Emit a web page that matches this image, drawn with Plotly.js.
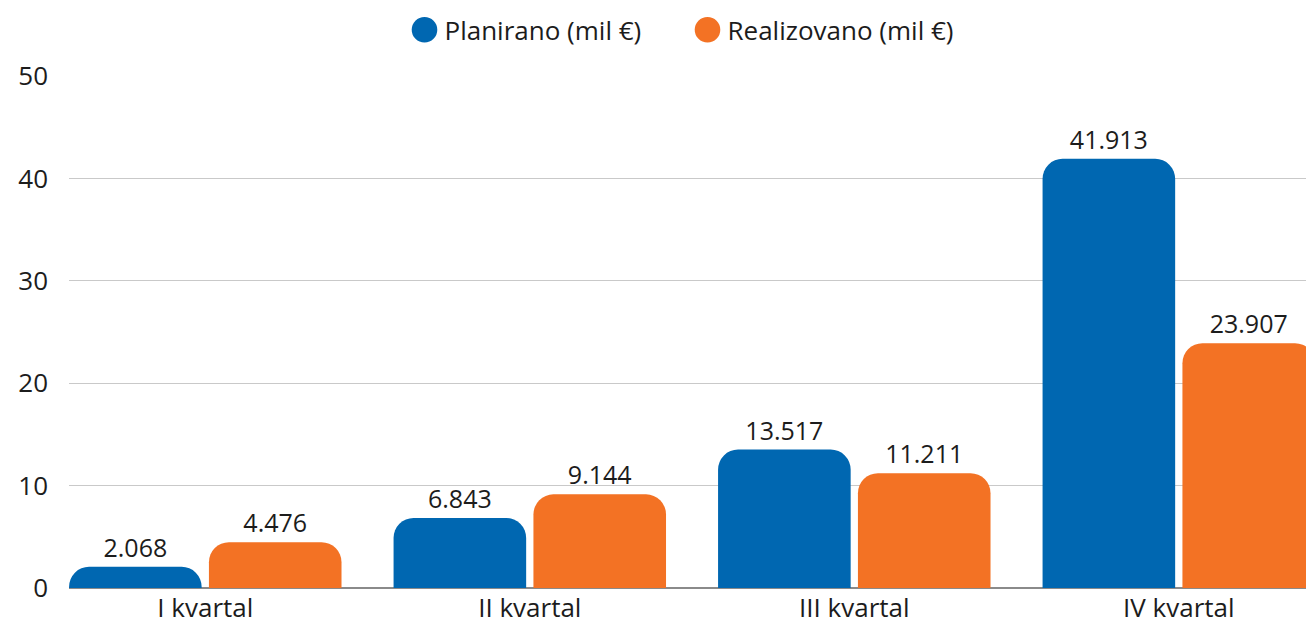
<!DOCTYPE html>
<html>
<head>
<meta charset="utf-8">
<script src="https://cdn.plot.ly/plotly-3.0.1.min.js"></script>
<style>html,body{margin:0;padding:0;background:#fff;}#chart{width:1306px;height:624px;}</style>
</head>
<body>
<div id="chart"></div>
<script>
const categories = ["I kvartal", "II kvartal", "III kvartal", "IV kvartal"];
const planirano = [2.068, 6.843, 13.517, 41.913];
const realizovano = [4.476, 9.144, 11.211, 23.907];
const seriesNames = ["Planirano (mil €)", "Realizovano (mil €)"];
const yTicks = [0, 10, 20, 30, 40, 50];

const BLUE = "#0067b1";
const ORANGE = "#f37224";
const FONT = "Open Sans, sans-serif";
const TXT = "#1c1c1c";

const barCommon = {
  type: "bar",
  x: categories,
  textposition: "outside",
  texttemplate: "%{y:.3f}",
  textfont: {family: FONT, size: 25, color: TXT},
  cliponaxis: false,
  showlegend: false,
  hoverinfo: "skip"
};

const data = [
  Object.assign({}, barCommon, {y: planirano, name: seriesNames[0], marker: {color: BLUE, cornerradius: 20}}),
  Object.assign({}, barCommon, {y: realizovano, name: seriesNames[1], marker: {color: ORANGE, cornerradius: 20}}),
  {type: "scatter", mode: "markers", x: [null], y: [null], name: seriesNames[0], marker: {symbol: "circle", size: 16, color: BLUE}, showlegend: true},
  {type: "scatter", mode: "markers", x: [null], y: [null], name: seriesNames[1], marker: {symbol: "circle", size: 16, color: ORANGE}, showlegend: true}
];

const layout = {
  width: 1306, height: 624,
  margin: {l: 69, r: 0, t: 76, b: 36, pad: 0},
  paper_bgcolor: "#ffffff", plot_bgcolor: "#ffffff",
  font: {family: FONT, size: 26, color: TXT},
  barmode: "group",
  bargap: 0.138,
  bargroupgap: 0.052,
  showlegend: true,
  legend: {orientation: "h", x: 0.5, xanchor: "center", y: 1.09, yanchor: "middle",
           font: {family: FONT, size: 26, color: TXT}, entrywidth: 238, entrywidthmode: "pixels",
           itemgap: 0, traceorder: "normal"},
  xaxis: {type: "category", range: [-0.42, 3.392], showgrid: false, zeroline: false,
          showline: false, ticks: "", ticklabelstandoff: 2, tickfont: {family: FONT, size: 26, color: TXT}, fixedrange: true},
  yaxis: {range: [0, 50], tickvals: yTicks, ticktext: yTicks.map(String), showgrid: true,
          gridcolor: "#c9c9c9", gridwidth: 1, zeroline: true, zerolinecolor: "#8a8a8a", zerolinewidth: 1.5,
          showline: false, ticks: "", ticklabelstandoff: 20,
          tickfont: {family: FONT, size: 26, color: TXT}, fixedrange: true}
};

Plotly.newPlot("chart", data, layout, {displayModeBar: false, staticPlot: true}).then(function(gd){
  // enlarge the legend circles to match the reference
  gd.querySelectorAll(".legend .legendpoints path").forEach(function(p){
    const t = p.getAttribute("transform") || "";
    p.setAttribute("transform", t + " scale(1.6)");
  });
});
</script>
</body>
</html>
